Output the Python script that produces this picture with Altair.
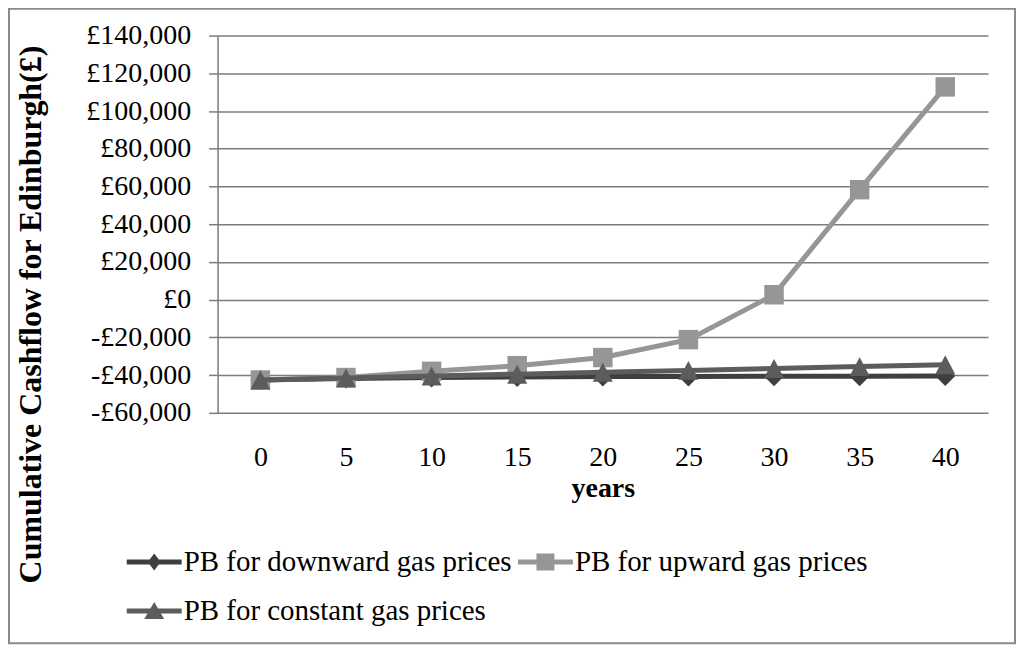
import altair as alt
import pandas as pd

FONT = "Liberation Serif"

years = [0, 5, 10, 15, 20, 25, 30, 35, 40]
series_names = [
    "PB for downward gas prices",
    "PB for upward gas prices",
    "PB for constant gas prices",
]
downward = [-42600, -41800, -41300, -41000, -40800, -40700, -40600, -40600, -40500]
upward = [-42600, -41300, -38000, -35000, -30700, -21200, 2600, 58300, 112800]
constant = [-42600, -41500, -40500, -39500, -38500, -37500, -36500, -35500, -34500]
y_ticks = [-60000, -40000, -20000, 0, 20000, 40000, 60000, 80000, 100000, 120000, 140000]

colors = ["#3f3f3f", "#969696", "#5c5c5c"]
marker_paths = [
    "M0,-2L2,0L0,2L-2,0Z",
    "M-1.95,-1.95H1.95V1.95H-1.95Z",
    "M0,-1.9L2,1.9L-2,1.9Z",
]
legend_line = "M-5.5,-0.5H5.5V0.5H-5.5Z "
legend_paths = [
    legend_line + "M0,-1.7L1.3,0L0,1.7L-1.3,0Z",
    legend_line + "M-1.8,-1.7H1.8V1.7H-1.8Z",
    legend_line + "M0,-1.8L2,1.6L-2,1.6Z",
]
legend_pos = [(-78, 513), (314, 513), (-78, 562)]

rows = []
for name, vals in zip(series_names, [downward, upward, constant]):
    for yr, v in zip(years, vals):
        rows.append({"year": yr, "value": v, "series": name})
df = pd.DataFrame(rows)

GRID = "#7c7c7c"

x_enc = alt.X(
    "year:O",
    scale=alt.Scale(type="point", padding=0.5),
    axis=alt.Axis(
        title="years", labelAngle=0, domain=False, ticks=False, grid=False,
        labelPadding=31, labelFont=FONT, labelFontSize=28, labelColor="black",
        titleFont=FONT, titleFontSize=28, titleFontWeight="bold", titleColor="black",
        titleY=84, titleBaseline="alphabetic",
    ),
)
y_enc = alt.Y(
    "value:Q",
    scale=alt.Scale(domain=[-60000, 140000], nice=False, zero=False),
    axis=alt.Axis(
        values=y_ticks,
        labelExpr="(datum.value < 0 ? '-' : '') + '£' + format(abs(datum.value), ',')",
        grid=True, gridColor=GRID, gridWidth=1.5,
        domainColor=GRID, domainWidth=1.5,
        tickColor=GRID, tickWidth=1.5, tickSize=9,
        labelPadding=18, labelFont=FONT, labelFontSize=28, labelColor="black",
        title="Cumulative Cashflow for Edinburgh(£)",
        titleFont=FONT, titleFontSize=32, titleFontWeight="bold", titleColor="black",
        titleAngle=270, titleX=-177, titleY=279, titleBaseline="alphabetic",
        titleAlign="center",
    ),
)

base = alt.Chart(df)

frame = alt.Chart(pd.DataFrame({"k": [0]})).mark_rect(
    fill="transparent", stroke="#8a8a8a", strokeWidth=2
).encode(
    x=alt.value(-209), x2=alt.value(799), y=alt.value(-27), y2=alt.value(609)
)

layers = [frame]
for i, name in enumerate(series_names):
    sub = base.transform_filter(alt.datum.series == name)
    line = sub.mark_line(color=colors[i], strokeWidth=5).encode(x=x_enc, y=y_enc)
    pts = sub.mark_point(
        filled=True, shape=marker_paths[i], size=100, opacity=1, strokeWidth=0
    ).encode(
        x=x_enc,
        y=y_enc,
        color=alt.Color(
            "series:N",
            scale=alt.Scale(domain=[name], range=[colors[i]]),
            legend=alt.Legend(
                title=None, orient="none",
                legendX=legend_pos[i][0], legendY=legend_pos[i][1],
                symbolType=legend_paths[i], symbolSize=100, symbolStrokeWidth=0,
                symbolOpacity=1,
                labelOffset=15, labelFont=FONT, labelFontSize=29,
                labelColor="black", labelLimit=0, padding=0,
            ),
        ),
    )
    layers += [line, pts]

chart = alt.layer(*layers).resolve_scale(color="independent").properties(
    width=772, height=378,
    autosize=alt.AutoSizeParams(type="none"),
    padding={"left": 210, "top": 27, "right": 28, "bottom": 232},
    background="white",
).configure_view(stroke=None)

chart.save("out.html", embed_options={"renderer": "svg", "actions": False})
